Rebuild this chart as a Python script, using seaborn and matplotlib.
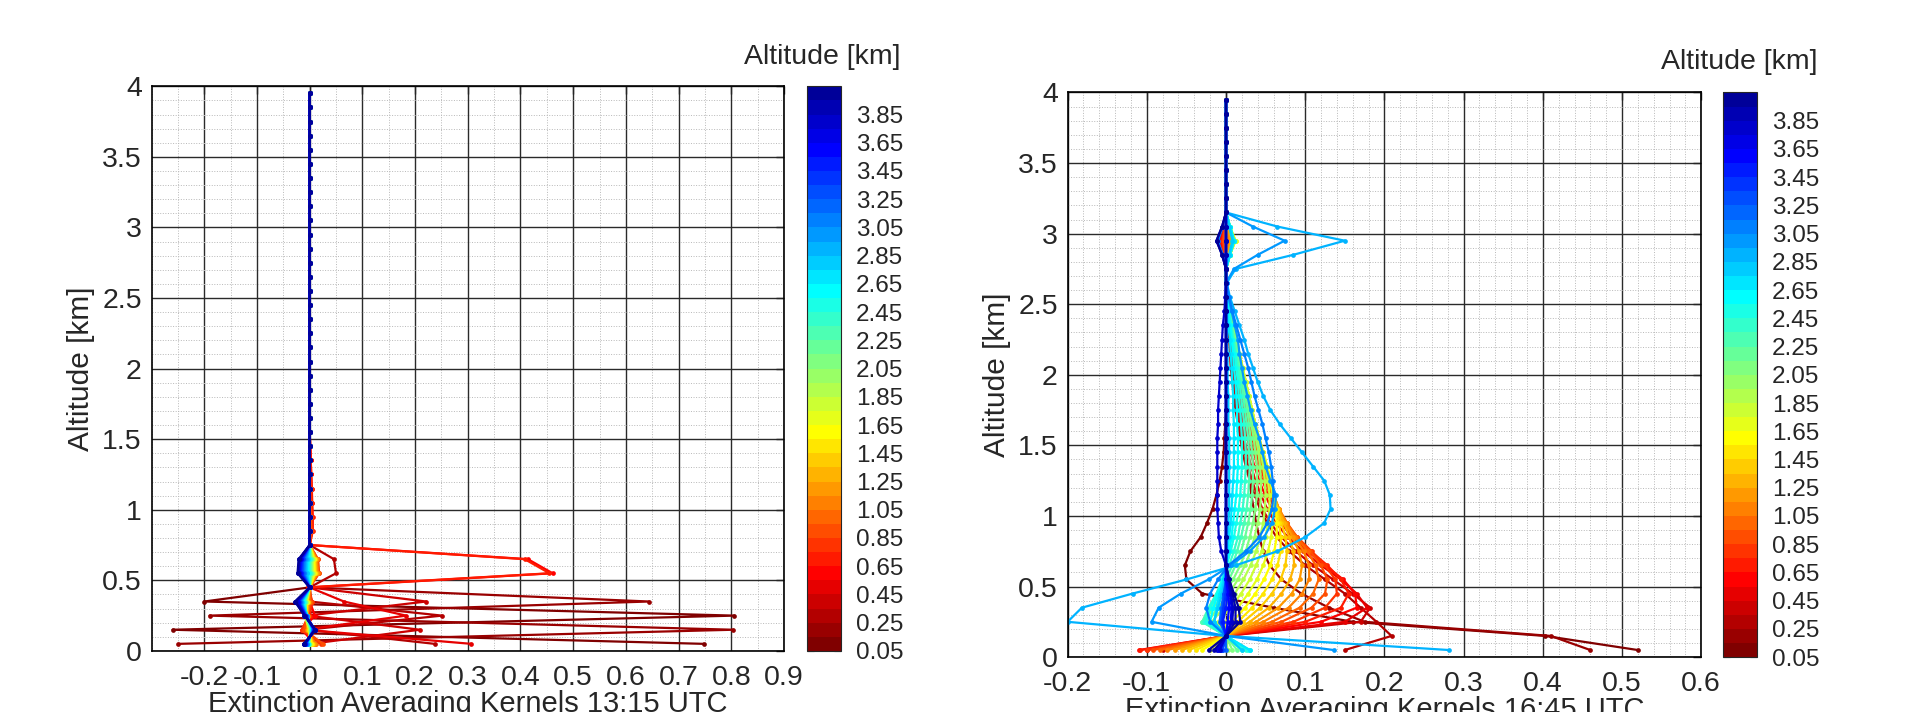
import matplotlib
matplotlib.use("Agg")
import numpy as np
import pandas as pd
import matplotlib.pyplot as plt
import seaborn as sns
from matplotlib.colors import ListedColormap, BoundaryNorm
from matplotlib.cm import ScalarMappable
from matplotlib.ticker import MultipleLocator

# ---------------- data ----------------
LEVELS = [0.05, 0.15, 0.25, 0.35, 0.45, 0.55, 0.65, 0.75, 0.85, 0.95,
          1.05, 1.15, 1.25, 1.35, 1.45, 1.55, 1.65, 1.75, 1.85, 1.95,
          2.05, 2.15, 2.25, 2.35, 2.45, 2.55, 2.65, 2.75, 2.85, 2.95,
          3.05, 3.15, 3.25, 3.35, 3.45, 3.55, 3.65, 3.75, 3.85, 3.95]

# kernel altitude -> kernel values from 0.05 km upward (missing levels are 0)
AK_1315 = {
    0.05: [0.748, -0.260, 0.806, -0.200, 0.000],
    0.15: [-0.249, 0.804, -0.190, 0.644, 0.000],
    0.25: [0.237, -0.005, 0.251, 0.000, 0.000, 0.050, 0.046, 0.000],
    0.35: [0.002, 0.209, -0.004, 0.221, 0.000],
    0.45: [0.307, -0.010, 0.183, 0.065, 0.000, 0.000, 0.000, 0.000, 0.004, 0.004, 0.003, 0.003, 0.002, 0.002, 0.001],
    0.55: [0.010, -0.015, 0.010, 0.000, 0.000, 0.461, 0.414, 0.000, 0.005, 0.005, 0.004, 0.004, 0.003, 0.002, 0.001],
    0.65: [0.000, -0.005, 0.000, 0.005, -0.004, 0.455, 0.408, 0.000, 0.006, 0.006, 0.005, 0.004, 0.003, 0.002, 0.001],
    0.75: [0.022, -0.015, -0.002, 0.004, 0.000, 0.018, 0.016, 0.000, 0.004, 0.003, 0.002, 0.002, 0.001],
    0.85: [0.025, -0.010, -0.005, 0.002, 0.000, 0.017, 0.015, 0.000, 0.003, 0.002, 0.001],
    0.95: [0.012, -0.006, -0.004, 0.000, 0.000, 0.016, 0.014],
    1.05: [0.010, -0.005, -0.004, -0.002, 0.000, 0.015, 0.013],
    1.15: [0.008, -0.004, -0.005, -0.003, 0.000, 0.013, 0.012],
    1.25: [0.006, -0.003, -0.005, -0.004, 0.000, 0.012, 0.011],
    1.35: [0.005, -0.002, -0.006, -0.004, 0.000, 0.011, 0.010],
    1.45: [0.004, -0.001, -0.007, -0.005, 0.000, 0.010, 0.009],
    1.55: [0.002, 0.000, -0.008, -0.006, 0.000, 0.009, 0.008],
    1.65: [0.000, 0.000, -0.010, -0.006, 0.000, 0.007, 0.007],
    1.75: [0.000, 0.001, -0.010, -0.007, 0.000, 0.006, 0.006],
    1.85: [-0.001, 0.001, -0.009, -0.007, 0.000, 0.005, 0.005],
    1.95: [-0.001, 0.002, -0.008, -0.008, 0.000, 0.004, 0.004],
    2.05: [-0.002, 0.002, -0.007, -0.008, 0.000, 0.003, 0.003],
    2.15: [-0.002, 0.003, -0.006, -0.009, 0.000, 0.002, 0.002],
    2.25: [-0.003, 0.003, -0.006, -0.010, 0.000, 0.001, 0.001],
    2.35: [-0.003, 0.004, -0.005, -0.011, 0.000, 0.000, 0.000],
    2.45: [-0.004, 0.004, -0.005, -0.012, 0.000, -0.002, -0.001],
    2.55: [-0.004, 0.005, -0.005, -0.013, 0.000, -0.003, -0.003],
    2.65: [-0.005, 0.005, -0.005, -0.014, 0.000, -0.005, -0.004],
    2.75: [-0.005, 0.006, -0.006, -0.015, 0.000, -0.006, -0.006],
    2.85: [-0.006, 0.006, -0.006, -0.016, 0.000, -0.008, -0.007],
    2.95: [-0.006, 0.007, -0.006, -0.017, 0.000, -0.010, -0.009],
    3.05: [-0.007, 0.007, -0.007, -0.018, 0.000, -0.011, -0.010],
    3.15: [-0.007, 0.008, -0.007, -0.019, 0.000, -0.013, -0.012],
    3.25: [-0.008, 0.008, -0.007, -0.020, 0.000, -0.014, -0.013],
    3.35: [-0.008, 0.009, -0.008, -0.021, 0.000, -0.016, -0.014],
    3.45: [-0.009, 0.009, -0.008, -0.022, 0.000, -0.017, -0.016],
    3.55: [-0.009, 0.010, -0.008, -0.023, 0.000, -0.019, -0.017],
    3.65: [-0.010, 0.010, -0.009, -0.024, 0.000, -0.020, -0.018],
    3.75: [-0.010, 0.011, -0.009, -0.026, 0.000, -0.021, -0.019],
    3.85: [-0.011, 0.011, -0.010, -0.027, 0.000, -0.022, -0.020],
    3.95: [-0.011, 0.011, -0.010, -0.028, 0.000, -0.023, -0.021],
}

AK_1645 = {
    0.05: [0.520, 0.403, 0.160, 0.060, -0.030, -0.050, -0.052, -0.045, -0.032, -0.024, -0.017, -0.012, -0.008, -0.005, -0.003, -0.002, -0.001, 0, 0, 0, 0, 0, 0, 0, 0, 0, 0, 0.000, -0.004, -0.008, -0.004],
    0.15: [0.460, 0.410, 0.175, 0.130, 0.095, 0.070, 0.055, 0.047, 0.042, 0.038, 0.035, 0.032, 0.030, 0.027, 0.025, 0.022, 0.020, 0.017, 0.015, 0.013, 0.011, 0.009, 0.007, 0.005, 0.003, 0.002, 0.000, 0.000, -0.004, -0.008, -0.004],
    0.25: [0.150, 0.209, 0.190, 0.170, 0.150, 0.125, 0.100, 0.080, 0.064, 0.052, 0.043, 0.036, 0.030, 0.025, 0.021, 0.018, 0.015, 0.012, 0.010, 0.008, 0.006, 0.005, 0.004, 0.003, 0.002, 0.001, 0.000, 0.000, -0.004, -0.008, -0.004],
    0.35: [-0.080, 0.000, 0.170, 0.182, 0.160, 0.135, 0.110, 0.088, 0.070, 0.056, 0.046, 0.039, 0.033, 0.028, 0.024, 0.020, 0.017, 0.014, 0.012, 0.010, 0.008, 0.006, 0.005, 0.003, 0.002, 0.001, 0.000, 0.000, -0.004, -0.008, -0.004],
    0.45: [-0.100, 0.000, 0.150, 0.178, 0.165, 0.145, 0.120, 0.097, 0.078, 0.063, 0.052, 0.044, 0.037, 0.032, 0.027, 0.023, 0.019, 0.016, 0.013, 0.011, 0.009, 0.007, 0.005, 0.004, 0.002, 0.001, 0.000, 0.000, -0.004, -0.007, -0.003],
    0.55: [-0.110, 0.000, 0.120, 0.165, 0.163, 0.148, 0.125, 0.103, 0.084, 0.069, 0.058, 0.049, 0.042, 0.036, 0.031, 0.027, 0.023, 0.019, 0.016, 0.013, 0.011, 0.008, 0.006, 0.004, 0.003, 0.001, 0.000, 0.000, -0.003, -0.006, -0.003],
    0.65: [-0.108, 0.000, 0.100, 0.145, 0.155, 0.145, 0.128, 0.107, 0.088, 0.073, 0.062, 0.053, 0.046, 0.040, 0.035, 0.030, 0.026, 0.022, 0.018, 0.015, 0.012, 0.009, 0.007, 0.005, 0.003, 0.001, 0.000, 0.000, -0.002, -0.005, -0.002],
    0.75: [-0.100, 0.000, 0.085, 0.125, 0.140, 0.138, 0.125, 0.108, 0.090, 0.075, 0.064, 0.056, 0.049, 0.043, 0.038, 0.033, 0.029, 0.025, 0.021, 0.017, 0.014, 0.011, 0.008, 0.006, 0.004, 0.002, 0.000, 0.000, -0.002, -0.004, -0.002],
    0.85: [-0.092, 0.000, 0.070, 0.108, 0.125, 0.128, 0.120, 0.106, 0.090, 0.077, 0.066, 0.058, 0.051, 0.045, 0.040, 0.035, 0.031, 0.027, 0.023, 0.019, 0.016, 0.012, 0.009, 0.007, 0.004, 0.002, 0.000, 0.000, -0.001, -0.003, -0.001],
    0.95: [-0.083, 0.000, 0.058, 0.093, 0.110, 0.117, 0.113, 0.103, 0.089, 0.077, 0.067, 0.059, 0.052, 0.046, 0.041, 0.036, 0.032, 0.028, 0.024, 0.020, 0.016, 0.013, 0.010, 0.007, 0.005, 0.002, 0.000, 0.000, 0.000, 0.002, 0.000],
    1.05: [-0.074, 0.000, 0.047, 0.079, 0.096, 0.105, 0.105, 0.098, 0.087, 0.076, 0.067, 0.060, 0.053, 0.047, 0.042, 0.037, 0.033, 0.029, 0.025, 0.021, 0.017, 0.014, 0.010, 0.007, 0.005, 0.002, 0.000, 0.000, 0.001, 0.004, 0.001],
    1.15: [-0.065, 0.000, 0.038, 0.066, 0.083, 0.093, 0.096, 0.092, 0.084, 0.075, 0.067, 0.060, 0.054, 0.048, 0.043, 0.038, 0.034, 0.030, 0.026, 0.022, 0.018, 0.014, 0.011, 0.008, 0.005, 0.003, 0.000, 0.000, 0.002, 0.006, 0.002],
    1.25: [-0.056, 0.000, 0.030, 0.054, 0.070, 0.081, 0.086, 0.085, 0.080, 0.073, 0.066, 0.060, 0.055, 0.050, 0.045, 0.040, 0.036, 0.032, 0.028, 0.024, 0.020, 0.016, 0.012, 0.008, 0.005, 0.003, 0.000, 0.000, 0.003, 0.008, 0.003],
    1.35: [-0.047, 0.000, 0.022, 0.043, 0.058, 0.069, 0.075, 0.077, 0.075, 0.070, 0.065, 0.060, 0.056, 0.051, 0.046, 0.041, 0.037, 0.033, 0.029, 0.025, 0.021, 0.017, 0.013, 0.009, 0.006, 0.003, 0.000, 0.000, 0.004, 0.010, 0.004],
    1.45: [-0.038, 0.000, 0.015, 0.033, 0.047, 0.058, 0.065, 0.069, 0.069, 0.067, 0.064, 0.060, 0.056, 0.052, 0.047, 0.042, 0.037, 0.033, 0.029, 0.025, 0.021, 0.017, 0.013, 0.009, 0.006, 0.003, 0.000, 0.000, 0.005, 0.011, 0.005],
    1.55: [-0.030, 0.000, 0.008, 0.024, 0.037, 0.048, 0.056, 0.061, 0.064, 0.064, 0.063, 0.061, 0.057, 0.052, 0.047, 0.042, 0.037, 0.033, 0.029, 0.025, 0.021, 0.017, 0.013, 0.009, 0.006, 0.003, 0.000, 0.000, 0.005, 0.012, 0.005],
    1.65: [-0.020, 0.000, 0.000, 0.015, 0.028, 0.039, 0.047, 0.053, 0.057, 0.059, 0.060, 0.059, 0.056, 0.052, 0.047, 0.042, 0.037, 0.033, 0.029, 0.025, 0.021, 0.017, 0.013, 0.009, 0.006, 0.003, 0.000, 0.000, 0.005, 0.012, 0.005],
    1.75: [-0.012, 0.000, -0.010, 0.006, 0.019, 0.030, 0.038, 0.045, 0.050, 0.053, 0.055, 0.055, 0.053, 0.050, 0.046, 0.041, 0.037, 0.033, 0.029, 0.025, 0.021, 0.017, 0.013, 0.009, 0.006, 0.003, 0.000, 0.000, 0.005, 0.011, 0.005],
    1.85: [-0.005, 0.000, -0.018, -0.003, 0.011, 0.022, 0.031, 0.038, 0.043, 0.047, 0.049, 0.050, 0.049, 0.047, 0.044, 0.040, 0.036, 0.032, 0.028, 0.024, 0.020, 0.016, 0.012, 0.009, 0.006, 0.003, 0.000, 0.000, 0.005, 0.011, 0.005],
    1.95: [0.002, 0.000, -0.023, -0.010, 0.004, 0.015, 0.024, 0.031, 0.036, 0.040, 0.043, 0.044, 0.044, 0.043, 0.041, 0.038, 0.034, 0.031, 0.027, 0.023, 0.019, 0.016, 0.012, 0.008, 0.005, 0.003, 0.000, 0.000, 0.005, 0.010, 0.005],
    2.05: [0.008, 0.000, -0.027, -0.016, -0.002, 0.009, 0.018, 0.025, 0.030, 0.034, 0.037, 0.039, 0.039, 0.039, 0.037, 0.035, 0.032, 0.029, 0.026, 0.022, 0.018, 0.015, 0.011, 0.008, 0.005, 0.002, 0.000, 0.000, 0.005, 0.010, 0.005],
    2.15: [0.014, 0.000, -0.030, -0.020, -0.007, 0.004, 0.012, 0.019, 0.024, 0.028, 0.031, 0.033, 0.034, 0.034, 0.033, 0.031, 0.029, 0.027, 0.024, 0.021, 0.017, 0.014, 0.011, 0.007, 0.005, 0.002, 0.000, 0.000, 0.005, 0.010, 0.005],
    2.25: [0.020, 0.000, -0.030, -0.022, -0.010, 0.000, 0.008, 0.014, 0.019, 0.023, 0.026, 0.028, 0.029, 0.030, 0.029, 0.028, 0.026, 0.024, 0.022, 0.019, 0.016, 0.013, 0.010, 0.007, 0.004, 0.002, 0.000, 0.000, 0.005, 0.010, 0.005],
    2.35: [0.025, 0.000, -0.028, -0.022, -0.012, -0.003, 0.004, 0.010, 0.015, 0.018, 0.021, 0.023, 0.024, 0.025, 0.025, 0.024, 0.023, 0.021, 0.019, 0.017, 0.015, 0.012, 0.009, 0.007, 0.004, 0.002, 0.000, 0.000, 0.005, 0.010, 0.005],
    2.45: [0.028, 0.000, -0.025, -0.020, -0.012, -0.005, 0.001, 0.006, 0.010, 0.013, 0.016, 0.018, 0.019, 0.020, 0.020, 0.020, 0.019, 0.018, 0.016, 0.015, 0.013, 0.011, 0.008, 0.006, 0.004, 0.002, 0.000, 0.000, 0.005, 0.010, 0.005],
    2.55: [0.030, 0.000, -0.020, -0.016, -0.010, -0.004, 0.000, 0.004, 0.007, 0.009, 0.011, 0.013, 0.014, 0.015, 0.015, 0.015, 0.014, 0.014, 0.013, 0.012, 0.010, 0.009, 0.007, 0.005, 0.003, 0.002, 0.000, 0.000, 0.005, 0.010, 0.005],
    2.65: [0.030, 0.000, -0.015, -0.012, -0.008, -0.003, 0.000, 0.002, 0.004, 0.006, 0.007, 0.008, 0.009, 0.010, 0.010, 0.010, 0.010, 0.009, 0.009, 0.008, 0.007, 0.006, 0.005, 0.003, 0.002, 0.001, 0.000, 0.000, 0.005, 0.010, 0.005],
    2.75: [0.020, 0.000, -0.015, -0.010, -0.005, -0.002, 0.000, 0.001, 0.002, 0.003, 0.004, 0.004, 0.004, 0.004, 0.004, 0.004, 0.003, 0.003, 0.003, 0.002, 0.002, 0.002, 0.001, 0.001, 0.001, 0.000, 0.000, 0.000, 0.004, 0.008, 0.004],
    2.85: [0.282, 0.000, -0.200, -0.182, -0.118, -0.050, 0.012, 0.065, 0.100, 0.124, 0.132, 0.131, 0.124, 0.110, 0.096, 0.082, 0.068, 0.056, 0.047, 0.040, 0.034, 0.028, 0.023, 0.017, 0.011, 0.005, 0.001, 0.012, 0.085, 0.150, 0.065],
    2.95: [0.136, 0.000, -0.094, -0.085, -0.057, -0.022, 0.006, 0.030, 0.048, 0.058, 0.062, 0.063, 0.056, 0.050, 0.046, 0.042, 0.036, 0.031, 0.027, 0.023, 0.020, 0.017, 0.015, 0.011, 0.007, 0.003, 0.000, 0.010, 0.040, 0.074, 0.034],
    3.05: [-0.005, 0.000, -0.020, -0.025, -0.020, -0.010, 0.003, 0.025, 0.042, 0.052, 0.058, 0.060, 0.059, 0.057, 0.054, 0.050, 0.046, 0.041, 0.036, 0.032, 0.028, 0.023, 0.018, 0.013, 0.008, 0.004, 0.001, 0.000, -0.004, -0.010, -0.004],
    3.15: [0.000, 0.000, -0.008, -0.006, -0.003, 0.000],
    3.25: [-0.004, 0.000, -0.006, -0.004, -0.002],
    3.35: [-0.006, 0.000, -0.005, -0.003],
    3.45: [-0.008, 0.000, -0.004, 0.000, 0.002],
    3.55: [-0.010, 0.000, 0.002, 0.004, 0.003],
    3.65: [-0.012, 0.000, 0.006, 0.007, 0.005, 0.002],
    3.75: [-0.008, 0.000, 0.008, 0.009, 0.006, 0.003, 0.000, -0.006, -0.009, -0.010, -0.011, -0.011, -0.011, -0.011, -0.011, -0.011, -0.010, -0.010, -0.009, -0.008, -0.007, -0.006, -0.005, -0.004, -0.002, -0.001, 0.000, 0.000, -0.005, -0.012, -0.005],
    3.85: [-0.015, 0.000, 0.012, 0.012, 0.008, 0.004, 0.000],
    3.95: [-0.022, 0.000, 0.018, 0.016, 0.010, 0.004, 0.000, 0.000, 0.000, 0.000, 0.000, 0.000, 0.000, 0.000, 0.000, 0.000, 0.000, 0.000, 0.000, 0.000, 0.000, 0.000, 0.000, 0.000, 0.000, 0.000, 0.000, 0.000, -0.005, -0.012, -0.005],
}

XTICKS_L = [-0.2, -0.1, 0.0, 0.1, 0.2, 0.3, 0.4, 0.5, 0.6, 0.7, 0.8, 0.9]
XTICKLABELS_L = ["-0.2", "-0.1", "0", "0.1", "0.2", "0.3", "0.4", "0.5", "0.6", "0.7", "0.8", "0.9"]
XTICKS_R = [-0.2, -0.1, 0.0, 0.1, 0.2, 0.3, 0.4, 0.5, 0.6]
XTICKLABELS_R = ["-0.2", "-0.1", "0", "0.1", "0.2", "0.3", "0.4", "0.5", "0.6"]
YTICKS = [0, 0.5, 1, 1.5, 2, 2.5, 3, 3.5, 4]
YTICKLABELS = ["0", "0.5", "1", "1.5", "2", "2.5", "3", "3.5", "4"]
CBAR_TICKS = [0.05, 0.25, 0.45, 0.65, 0.85, 1.05, 1.25, 1.45, 1.65, 1.85,
              2.05, 2.25, 2.45, 2.65, 2.85, 3.05, 3.25, 3.45, 3.65, 3.85]
CBAR_TICKLABELS = ["0.05", "0.25", "0.45", "0.65", "0.85", "1.05", "1.25", "1.45", "1.65", "1.85",
                   "2.05", "2.25", "2.45", "2.65", "2.85", "3.05", "3.25", "3.45", "3.65", "3.85"]
XLABEL_L = "Extinction Averaging Kernels 13:15 UTC"
XLABEL_R = "Extinction Averaging Kernels 16:45 UTC"
YLABEL = "Altitude [km]"
CBAR_TITLE = "Altitude [km]"

# ---------------- style ----------------
sns.set_style("white")
plt.rcParams["font.family"] = ["Liberation Sans", "DejaVu Sans"]


def matlab_jet(m):
    n = int(np.ceil(m / 4))
    u = np.concatenate([np.arange(1, n + 1) / n, np.ones(n - 1), np.arange(n, 0, -1) / n])
    g = int(np.ceil(n / 2)) - (1 if m % 4 == 1 else 0) + np.arange(1, len(u) + 1)
    r = g + n
    b = g - n
    J = np.zeros((m, 3))
    for idx, (gi, ri, bi) in enumerate(zip(g, r, b)):
        if 1 <= ri <= m:
            J[ri - 1, 0] = u[idx]
        if 1 <= gi <= m:
            J[gi - 1, 1] = u[idx]
        if 1 <= bi <= m:
            J[bi - 1, 2] = u[idx]
    return J


JET = matlab_jet(len(LEVELS))[::-1]          # kernel 0 (0.05 km) -> dark red
COLORS = [tuple(c) for c in JET]
NAMES = [f"k{i:02d}" for i in range(len(LEVELS))]
PALETTE = dict(zip(NAMES, COLORS))


def build(ak):
    recs = []
    for i, a in enumerate(LEVELS):
        vals = ak.get(a, [])
        for j, z in enumerate(LEVELS):
            v = vals[j] if j < len(vals) else 0.0
            recs.append((NAMES[i], z, v))
    return pd.DataFrame(recs, columns=["kernel", "alt", "ak"])


fig = plt.figure(figsize=(19.33, 7.12), dpi=100)
axL = fig.add_axes([0.0784, 0.0858, 0.3272, 0.793])
caxL = fig.add_axes([0.4177, 0.0858, 0.0172, 0.793])
axR = fig.add_axes([0.5523, 0.0771, 0.3278, 0.793])
caxR = fig.add_axes([0.8916, 0.0771, 0.0172, 0.793])

bounds = [LEVELS[0]] + [l + 0.1 for l in LEVELS]
cmap = ListedColormap(COLORS)
norm = BoundaryNorm(bounds, cmap.N)


def panel(ax, cax, ak, xlim, xticks, xticklabels, xminor, xlabel, title_xy):
    df = build(ak)
    sns.lineplot(data=df, x="ak", y="alt", hue="kernel", hue_order=NAMES,
                 palette=PALETTE, orient="y", estimator=None, sort=True,
                 marker="o", linewidth=1.6, legend=False, ax=ax)
    for ln in ax.lines:
        ln.set_markersize(3.4)
        ln.set_markeredgewidth(0)
        ln.set_markerfacecolor(ln.get_color())
    ax.set_xlim(*xlim)
    ax.set_ylim(0, 4)
    ax.set_xticks(xticks, labels=xticklabels)
    ax.set_yticks(YTICKS, labels=YTICKLABELS)
    ax.xaxis.set_minor_locator(MultipleLocator(xminor))
    ax.yaxis.set_minor_locator(MultipleLocator(0.1))
    ax.set_axisbelow(True)
    ax.grid(which="major", color="#2a2a2a", lw=1.0, ls="-")
    ax.grid(which="minor", color="#b8b8b8", lw=0.7, ls=":")
    ax.tick_params(which="major", direction="in", length=6, width=1.0,
                   top=True, right=True, labelsize=20.5)
    ax.tick_params(axis="y", which="major", pad=7)
    ax.tick_params(axis="x", which="major", pad=10)
    ax.tick_params(which="minor", length=0)
    for s in ax.spines.values():
        s.set_linewidth(1.2)
        s.set_color("black")
    ax.set_xlabel(xlabel, fontsize=21)
    ax.xaxis.set_label_coords(0.5, -0.069)
    ax.xaxis.label.set_va("top")
    ax.set_ylabel(YLABEL, fontsize=21.5)
    ax.yaxis.set_label_coords(-0.112, 0.5)
    ax.yaxis.label.set_va("center")

    cb = fig.colorbar(ScalarMappable(norm=norm, cmap=cmap), cax=cax, ticks=CBAR_TICKS)
    cb.ax.set_yticklabels(CBAR_TICKLABELS)
    cb.ax.tick_params(which="major", direction="in", left=True, right=True,
                      length=5, width=0.8, labelsize=17.5, pad=11)
    cb.ax.minorticks_off()
    cb.outline.set_linewidth(0.8)
    fig.text(title_xy[0], title_xy[1], CBAR_TITLE, ha="center", va="center", fontsize=20.5)


panel(axL, caxL, AK_1315, (-0.3, 0.9), XTICKS_L, XTICKLABELS_L, 0.05, XLABEL_L, (0.4253, 0.9204))
panel(axR, caxR, AK_1645, (-0.2, 0.6), XTICKS_R, XTICKLABELS_R, 0.02, XLABEL_R, (0.8996, 0.9135))

fig.savefig("out.png", dpi=100)
